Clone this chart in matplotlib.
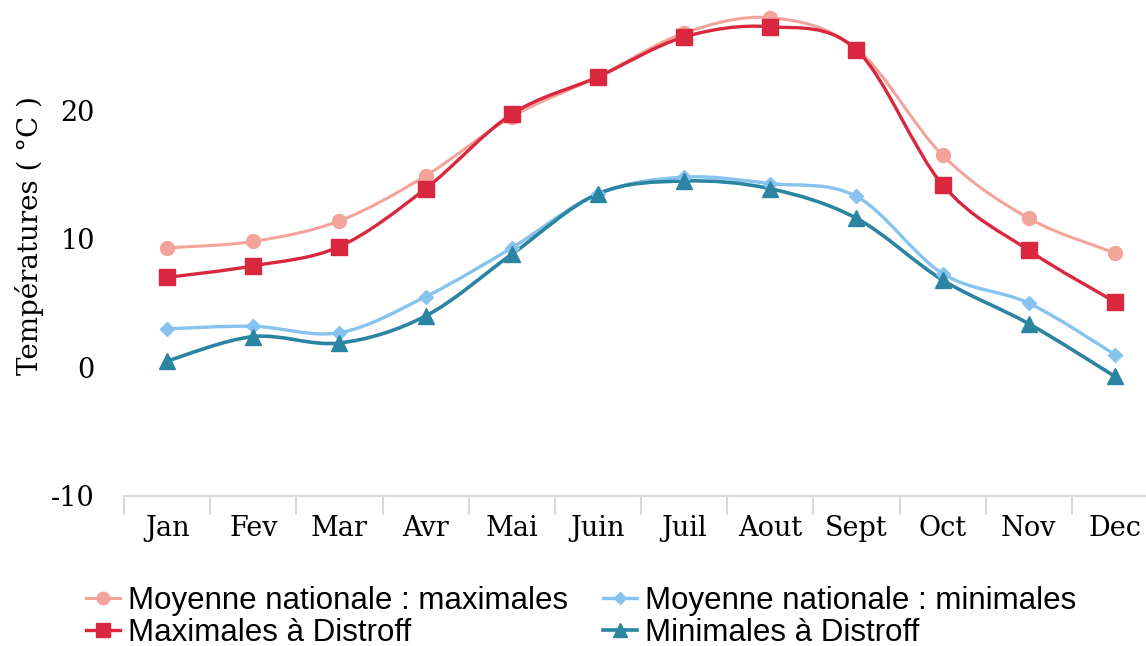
import numpy as np
import matplotlib
matplotlib.use('Agg')
import matplotlib.pyplot as plt
from matplotlib.path import Path
from matplotlib.patches import PathPatch
from matplotlib.lines import Line2D

months = ['Jan', 'Fev', 'Mar', 'Avr', 'Mai', 'Juin', 'Juil', 'Aout', 'Sept', 'Oct', 'Nov', 'Dec']
moy_max = [9.3, 9.8, 11.4, 14.9, 19.5, 22.6, 26.0, 27.2, 24.8, 16.5, 11.6, 8.9]
moy_min = [3.0, 3.2, 2.7, 5.5, 9.3, 13.5, 14.8, 14.3, 13.3, 7.3, 5.0, 1.0]
dist_max = [7.0, 7.9, 9.4, 13.9, 19.7, 22.6, 25.7, 26.5, 24.7, 14.2, 9.1, 5.1]
dist_min = [0.5, 2.4, 1.9, 4.0, 8.8, 13.5, 14.5, 13.9, 11.6, 6.8, 3.4, -0.7]

labels = ['Moyenne nationale : maximales', 'Maximales à Distroff',
          'Moyenne nationale : minimales', 'Minimales à Distroff']
c_moymax = '#f2a49b'
c_dmax = '#d8273f'
c_moymin = '#86c3ee'
c_dmin = '#2a84a2'

fig = plt.figure(figsize=(11.46, 6.46), dpi=100)
ax = fig.add_axes([124/1146, 150/646, 1034/1146, 495/646])


def smooth(ax, y, color, lw, z):
    # Catmull-Rom style smoothing drawn as bezier path (like the spreadsheet chart)
    x = np.arange(len(y), dtype=float)
    y = np.asarray(y, dtype=float)
    verts = [(x[0], y[0])]
    codes = [Path.MOVETO]
    n = len(y)
    for i in range(n - 1):
        p0 = (x[max(i - 1, 0)], y[max(i - 1, 0)])
        p1 = (x[i], y[i])
        p2 = (x[i + 1], y[i + 1])
        p3 = (x[min(i + 2, n - 1)], y[min(i + 2, n - 1)])
        c1 = (p1[0] + (p2[0] - p0[0]) / 6, p1[1] + (p2[1] - p0[1]) / 6)
        c2 = (p2[0] - (p3[0] - p1[0]) / 6, p2[1] - (p3[1] - p1[1]) / 6)
        verts += [c1, c2, p2]
        codes += [Path.CURVE4] * 3
    ax.add_patch(PathPatch(Path(verts, codes), fill=False, edgecolor=color,
                           lw=lw, zorder=z, capstyle='round'))


x = np.arange(len(months))
smooth(ax, moy_max, c_moymax, 2.2, 2)
smooth(ax, dist_max, c_dmax, 2.4, 3)
smooth(ax, moy_min, c_moymin, 2.4, 2)
smooth(ax, dist_min, c_dmin, 2.6, 3)
ax.plot(x, moy_max, 'o', color=c_moymax, ms=10, zorder=4)
ax.plot(x, dist_max, 's', color=c_dmax, ms=11, zorder=5)
ax.plot(x, moy_min, 'D', color=c_moymin, ms=7, zorder=4)
ax.plot(x, dist_min, '^', color=c_dmin, ms=11, zorder=5)

ax.set_xlim(-0.5, 11.5)
ax.set_ylim(-10, 28.5)
for s in ['top', 'right', 'left']:
    ax.spines[s].set_visible(False)
ax.spines['bottom'].set_color('#d9d9d9')
ax.spines['bottom'].set_linewidth(1.5)

ax.set_yticks([-10, 0, 10, 20])
ax.set_yticklabels(['-10', '0', '10', '20'], family='DejaVu Serif', fontsize=19.5)
ax.tick_params(axis='y', length=0, pad=21)

ax.set_xticks(x)
ax.set_xticklabels(months, family='DejaVu Serif', fontsize=19.5)
ax.set_xticks(np.arange(-0.5, 12, 1), minor=True)
ax.tick_params(axis='x', which='major', length=0, pad=14)
ax.tick_params(axis='x', which='minor', length=14, color='#d9d9d9', width=1.5)

fig.text(30/1146, 0.635, 'Températures ( °C )', rotation=90, ha='center', va='center',
         family='DejaVu Serif', fontsize=20)

handles = [
    Line2D([], [], color=c_moymax, lw=2.2, marker='o', ms=9),
    Line2D([], [], color=c_dmax, lw=2.4, marker='s', ms=10),
    Line2D([], [], color=c_moymin, lw=2.4, marker='D', ms=6),
    Line2D([], [], color=c_dmin, lw=2.6, marker='^', ms=10),
]
fig.legend(handles, labels, ncol=2, loc='upper left', bbox_to_anchor=(86/1146, 1 - 586/646),
           frameon=False, prop={'family': 'Liberation Sans', 'size': 22.5},
           handlelength=1.1, handletextpad=0.25, columnspacing=1.1,
           labelspacing=0.05, borderaxespad=0, borderpad=0)

fig.savefig('out.png', dpi=100)
